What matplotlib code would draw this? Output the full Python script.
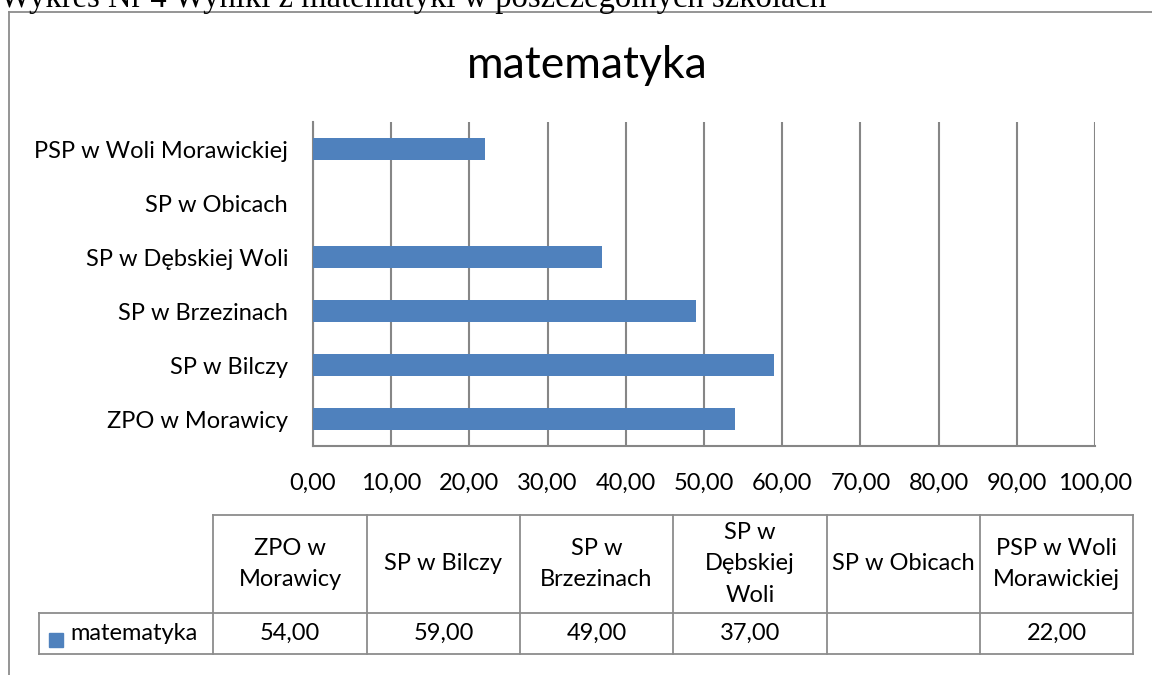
import matplotlib.pyplot as plt
from matplotlib.patches import Rectangle

# data
schools = ["ZPO w Morawicy", "SP w Bilczy", "SP w Brzezinach",
           "SP w Dębskiej Woli", "SP w Obicach", "PSP w Woli Morawickiej"]
header_labels = ["ZPO w\nMorawicy", "SP w Bilczy", "SP w\nBrzezinach",
                 "SP w\nDębskiej\nWoli", "SP w Obicach", "PSP w Woli\nMorawickiej"]
scores = [54.0, 59.0, 49.0, 37.0, None, 22.0]
series_name = "matematyka"
x_ticks = [0, 10, 20, 30, 40, 50, 60, 70, 80, 90, 100]

W, H = 1152, 675
BAR = "#4F81BD"
GRID = "#868686"
FONT = "Lato"
FS = 17

fig = plt.figure(figsize=(W / 100, H / 100), dpi=100, facecolor="white")

# overlay axes in pixel coords for frame, caption and table
ov = fig.add_axes([0, 0, 1, 1])
ov.set_xlim(0, W)
ov.set_ylim(H, 0)
ov.axis("off")

# chart frame + caption (caption is cut by the top edge, as in the source)
ov.plot([9, W], [12, 12], color="#8c8c8c", lw=1.3)
ov.plot([9, 9], [12, H], color="#8c8c8c", lw=1.3)
ov.text(0, 7, "Wykres Nr 4 Wyniki z matematyki w poszczególnych szkołach",
        family="Liberation Serif", fontsize=23.5, ha="left", va="baseline", color="black",
        clip_on=False)

ov.text(587, 66, series_name, family=FONT, fontsize=32, ha="center", va="center")

# bar chart
ax = fig.add_axes([313 / W, 1 - 446 / H, (1095 - 313) / W, (446 - 122) / H])
ypos = list(range(len(schools)))
vals = [v if v is not None else 0 for v in scores]
ax.barh(ypos, vals, height=0.39, color=BAR, zorder=3)
ax.set_ylim(-0.5, len(schools) - 0.5)
ax.set_xlim(x_ticks[0], x_ticks[-1])
ax.set_xticks(x_ticks)
ax.set_xticklabels([f"{t:.2f}".replace(".", ",") for t in x_ticks], family=FONT, fontsize=FS)
ax.set_yticks(ypos)
ax.set_yticklabels(schools, family=FONT, fontsize=FS)
ax.tick_params(axis="x", length=0, pad=19)
ax.tick_params(axis="y", length=0, pad=18)
ax.grid(axis="x", color=GRID, lw=1.5, zorder=0)
for s in ["top", "right"]:
    ax.spines[s].set_visible(False)
for s in ["left", "bottom"]:
    ax.spines[s].set_color(GRID)
    ax.spines[s].set_linewidth(1.5)

# data table
col_edges = [213, 367, 520, 673, 827, 980, 1133]
t_top, t_mid, t_bot, leg_left = 515, 613, 654, 39
tc = "#8c8c8c"
ov.plot([col_edges[0], col_edges[-1]], [t_top, t_top], color=tc, lw=1.3)
ov.plot([leg_left, col_edges[-1]], [t_mid, t_mid], color=tc, lw=1.3)
ov.plot([leg_left, col_edges[-1]], [t_bot, t_bot], color=tc, lw=1.3)
ov.plot([leg_left, leg_left], [t_mid, t_bot], color=tc, lw=1.3)
for xe in col_edges:
    ov.plot([xe, xe], [t_top, t_bot], color=tc, lw=1.3)
for i, (lab, v) in enumerate(zip(header_labels, scores)):
    cx = (col_edges[i] + col_edges[i + 1]) / 2
    ov.text(cx, (t_top + t_mid) / 2, lab, family=FONT, fontsize=FS,
            ha="center", va="center", linespacing=1.6)
    if v is not None:
        ov.text(cx, (t_mid + t_bot) / 2, f"{v:.2f}".replace(".", ","), family=FONT,
                fontsize=FS, ha="center", va="center")
ov.add_patch(Rectangle((49, 633), 14, 14, color=BAR))
ov.text(70, (t_mid + t_bot) / 2, series_name, family=FONT, fontsize=FS, ha="left", va="center")

fig.savefig("out.png", dpi=100, facecolor="white")
